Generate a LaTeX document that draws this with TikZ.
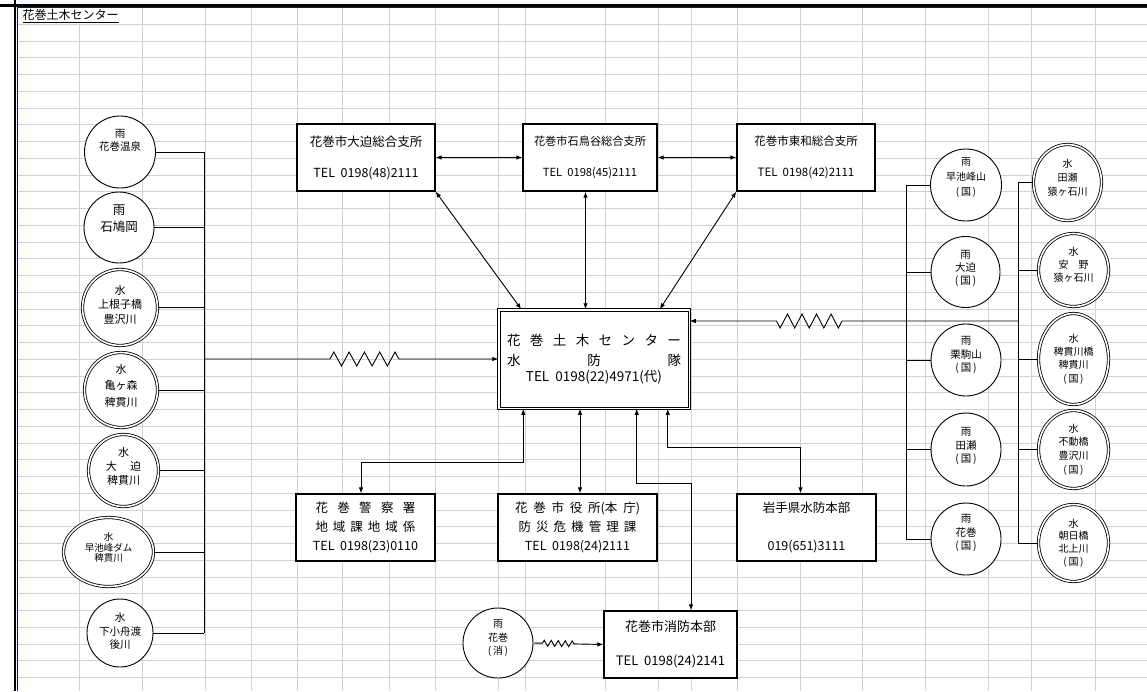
\documentclass[tikz,border=0pt]{standalone}
\usepackage{fontspec}
\setmainfont{Noto Sans CJK JP}
\usetikzlibrary{arrows.meta,shapes.geometric,decorations.pathmorphing}

\newcommand{\fs}[2]{\fontsize{#1}{#2}\selectfont}
\newcommand{\spread}[2]{\makebox[#1][s]{#2}}

\begin{document}
\begin{tikzpicture}[x=1pt, y=-1pt,
  >={Latex[length=6pt,width=4.5pt]},
  grid/.style={black!18, line width=0.9pt},
  box/.style={draw, fill=white, line width=1.3pt, align=center, inner sep=0pt, minimum height=67},
  rain/.style={ellipse, draw, fill=white, line width=0.9pt, inner sep=0pt},
  water/.style={rain, double, double distance=1.6pt, line width=0.8pt},
  link/.style={line width=0.9pt},
  zig/.style n args={4}{decorate, decoration={zigzag, pre length=#1, post length=#2, segment length=#3, amplitude=#4}},
  every label/.style={align=center, inner sep=0pt}]

\useasboundingbox (0,0) rectangle (1147,691);

% sheet grid
\foreach \x in {142,205,251,297,342,389,435,498,525,605,658,691,737,800,862,925,988,1031,1095}
  \draw[grid] (\x,8) -- (\x,691);
\draw[grid] (79,24.3) -- (79,691);
\foreach \k in {0,...,39}
  \draw[grid] (18,{24.3+16.75*\k}) -- (1147,{24.3+16.75*\k});

\draw[line width=2.7pt] (0,5.3) -- (1147,5.3);
\draw[line width=2pt] (15,0) -- (15,691);
\draw[blue!85!black, line width=0.9pt] (17.5,691) -- (17.5,7.8) -- (1147,7.8);

\node[anchor=west, font=\fs{12}{14}] (title) at (19,16) {\underline{花巻土木センター}};

% offices
\node[box, minimum width=138, font=\fs{12.5}{31}] (t1) at (366,157.5) {花巻市大迫総合支所\\TEL\ \ 0198(48)2111};
\node[box, minimum width=134, font=\fs{11.2}{31}] (t2) at (590,157.5) {花巻市石鳥谷総合支所\\TEL\ \ 0198(45)2111};
\node[box, minimum width=138, font=\fs{11.5}{31}] (t3) at (806,157.5) {花巻市東和総合支所\\TEL\ \ 0198(42)2111};

\node[box, double, double distance=1.5pt, line width=1pt, minimum width=190.5, minimum height=98.5, font=\fs{13.5}{18}] (hq) at (594,359)
  {\spread{174pt}{花 巻 土 木 セ ン タ ー}\\[2pt]\spread{174pt}{水 防 隊}\\[-2pt]TEL\ \ 0198(22)4971(代)};

\node[box, minimum width=139, font=\fs{12.5}{19}] (police) at (365.5,527.5)
  {\spread{100pt}{花 巻 警 察 署}\\\spread{100pt}{地 域 課 地 域 係}\\TEL\ \ 0198(23)0110};
\node[box, minimum width=159, font=\fs{12.5}{19}] (city) at (577.5,527.5)
  {\spread{125pt}{花 巻 市 役 所(本 庁)}\\\spread{118pt}{防 災 危 機 管 理 課}\\TEL\ \ 0198(24)2111};
\node[box, minimum width=139, font=\fs{12.5}{19}] (iwate) at (806.5,527.5) {岩手県水防本部\\[19pt]019(651)3111};
\node[box, minimum width=133, font=\fs{13}{34}] (fire) at (670.5,644.5) {花巻市消防本部\\TEL\ \ 0198(24)2141};

% gauges, left
\node[rain, minimum width=71, minimum height=72, label={[yshift=11.5, font=\fs{10.5}{13}]center:{雨\\花巻温泉}}] (l1) at (120,152) {};
\node[rain, minimum width=70, minimum height=71, label={[yshift=9, font=\fs{12.5}{16.7}]center:{雨\\石鳩岡}}] (l2) at (119,227.5) {};
\node[water, minimum width=75, minimum height=76, label={[yshift=3, font=\fs{11}{14.5}]center:{水\\上根子橋\\豊沢川}}] (l3) at (120,307.5) {};
\node[water, minimum width=73, minimum height=75, label={[yshift=4.5, font=\fs{11}{16.5}]center:{水\\亀ヶ森\\稗貫川}}] (l4) at (121,390) {};
\node[water, minimum width=70, minimum height=72, label={[yshift=4, font=\fs{11}{13.7}]center:{水\\大\hspace{1.2em}迫\\稗貫川}}] (l5) at (123.5,470.5) {};
\node[water, minimum width=90, minimum height=69, label={[yshift=4.5, font=\fs{9.5}{10.8}]center:{水\\早池峰ダム\\稗貫川}}] (l6) at (108.5,552) {};
\node[rain, minimum width=66, minimum height=68, label={[yshift=1.5, font=\fs{10.5}{13.5}]center:{水\\下小舟渡\\後川}}] (l7) at (120,633) {};

% gauges, right
\node[rain, minimum width=71, minimum height=72, label={[yshift=7, font=\fs{10}{15}]center:{雨\\早池峰山\\(\,国\,)}}] (r1) at (966,185) {};
\node[rain, minimum width=69, minimum height=71, label={[yshift=3.5, font=\fs{10.5}{12.8}]center:{雨\\大迫\\(\,国\,)}}] (r2) at (965.5,272) {};
\node[rain, minimum width=70, minimum height=72, label={[yshift=5, font=\fs{10.5}{13.7}]center:{雨\\栗駒山\\(\,国\,)}}] (r3) at (966,360) {};
\node[rain, minimum width=70, minimum height=73, label={[yshift=3.5, font=\fs{10.5}{13.3}]center:{雨\\田瀬\\(\,国\,)}}] (r4) at (966,449.5) {};
\node[rain, minimum width=70, minimum height=72, label={[yshift=6, font=\fs{10.5}{13.7}]center:{雨\\花巻\\(\,国\,)}}] (r5) at (966,539) {};

\node[water, minimum width=68, minimum height=76, label={[yshift=5, font=\fs{10}{13.9}]center:{水\\田瀬\\猿ヶ石川}}] (w1) at (1067.5,182.5) {};
\node[water, minimum width=70, minimum height=73, label={[yshift=5, font=\fs{10}{13}]center:{水\\安\hspace{1em}野\\猿ヶ石川}}] (w2) at (1073.5,270) {};
\node[water, minimum width=70, minimum height=91, label={[font=\fs{10}{13.3}]center:{水\\稗貫川橋\\稗貫川\\(\,国\,)}}] (w3) at (1073.5,359) {};
\node[water, minimum width=70, minimum height=78, label={[font=\fs{10}{13.8}]center:{水\\不動橋\\豊沢川\\(\,国\,)}}] (w4) at (1073.5,449.5) {};
\node[water, minimum width=70, minimum height=77, label={[font=\fs{10}{12.6}]center:{水\\朝日橋\\北上川\\(\,国\,)}}] (w5) at (1073.5,543) {};

\node[rain, minimum width=70, minimum height=70, label={[yshift=4.7, font=\fs{10}{13.3}]center:{雨\\花巻\\(\,消\,)}}] (rf) at (498,643) {};

\coordinate (lb) at (204,359);
\coordinate (rb) at (906,321);
\coordinate (wb) at (1018,321);

% left gauges to the centre
\draw[link] (l1.east) -- (l1.east -| lb);
\draw[link] (l2.east) -- (l2.east -| lb);
\draw[link] (l3.east) -- (l3.east -| lb);
\draw[link] (l4.east) -- (l4.east -| lb);
\draw[link] (l5.east) -- (l5.east -| lb);
\draw[link] (l6.east) -- (l6.east -| lb);
\draw[link] (l7.east) -- (l7.east -| lb);
\draw[link] (l1.east -| lb) -- (l7.east -| lb);
\draw[link, ->, zig={126pt}{92pt}{15.3pt}{7pt}] (lb) -- (hq.west);

% right gauges to the centre
\draw[link] (r1.west) -- (r1.west -| rb);
\draw[link] (r2.west) -- (r2.west -| rb);
\draw[link] (r3.west) -- (r3.west -| rb);
\draw[link] (r4.west) -- (r4.west -| rb);
\draw[link] (r5.west) -- (r5.west -| rb);
\draw[link] (r1.west -| rb) -- (r5.west -| rb);
\draw[link] (w1.west) -- (w1.west -| wb);
\draw[link] (w2.west) -- (w2.west -| wb);
\draw[link] (w3.west) -- (w3.west -| wb);
\draw[link] (w4.west) -- (w4.west -| wb);
\draw[link] (w5.west) -- (w5.west -| wb);
\draw[link] (w1.west -| wb) -- (w5.west -| wb);
\draw[link, ->, zig={176pt}{80pt}{14.55pt}{7pt}] (wb) -- (wb -| hq.east);

% offices
\draw[link, <->] (t1.east) -- (t2.west);
\draw[link, <->] (t2.east) -- (t3.west);
\draw[link, <->] (t1.south east) -- ([xshift=23]hq.north west);
\draw[link, <->] ([xshift=-4.5]t2.south) -- ([xshift=-4.5]t2.south |- hq.north);
\draw[link, <->] (t3.south west) -- ([xshift=-30]hq.north east);

\draw[link, <->] ([xshift=-4.5]police.north) -- ++(0,-31) -| ([xshift=25]hq.south west);
\draw[link, <->] ([xshift=2.5]city.north) -- ([xshift=2.5]city.north |- hq.south);
\draw[link, <->] ([xshift=-53]hq.south east) -- ++(0,75) -| ([xshift=20.5]fire.north);
\draw[link, <->] ([xshift=-22]hq.south east) -- ++(0,39) -| ([xshift=-6]iwate.north);

\draw[link, ->, zig={9pt}{27pt}{7pt}{3pt}] (rf.east) -- (fire.west);

\end{tikzpicture}
\end{document}
